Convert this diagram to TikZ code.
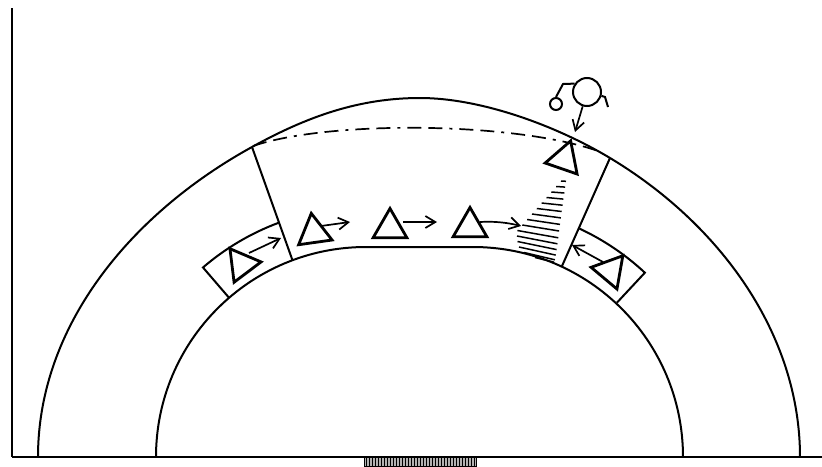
\documentclass[tikz,border=0pt]{standalone}
\usetikzlibrary{arrows.meta,shapes.geometric}
\begin{document}
\begin{tikzpicture}[x=1pt, y=-1pt, line width=2pt,
    player/.style={draw, regular polygon, regular polygon sides=3,
      minimum size=39pt, inner sep=0pt, line width=2.8pt},
    move/.style={-{Straight Barb[length=10pt, width=12pt]}, line width=1.7pt},
    shot/.style={line width=1.5pt}]
    \useasboundingbox (0,0) rectangle (822,466);
    % court
    \draw (12,8) -- (12,457);
    \draw[line width=2.6pt] (12,457) -- (822,457);
    \draw[fill=gray!60, line width=0.8pt] (364,457) rectangle (476,466);
    \draw[line width=0.6pt] (364,457) grid[xstep=3, ystep=3] (476,466);
    \coordinate (jl) at (252,147);
    \coordinate (jr) at (610,158);
    % 6m line
    \draw (156,457) arc[start angle=180, end angle=270, radius=210]
        -- (473,247) arc[start angle=270, end angle=360, radius=210];
    % 9m line
    \draw (38,457) .. controls (38,325) and (132,213) .. (jl)
        .. controls (308,116) and (360,98) .. (420,98)
        .. controls (480,98) and (555,125) .. (jr)
        .. controls (720,224) and (800,334) .. (800,457);
    \draw (jl) -- (292.5,260.3);
    \draw (jr) -- (561.7,266.7);
    \draw[dash pattern=on 14pt off 7pt on 14pt off 7pt on 3pt off 7pt, line width=1.7pt]
        (253,146) .. controls (330,120) and (515,122) .. (598,151);
    % side boxes
    \draw (366,457) ++(229.3:210) -- ++(229.3:40)
        arc[start angle=229.3, end angle=249.5, radius=250];
    \draw (473,457) ++(313:211) -- ++(313:41)
        arc[start angle=313, end angle=295, radius=252];
    % shot lane
    \foreach \ya/\xa/\xb/\yb in {181/561/566/181.3, 186.5/556.2/565.1/187.1,
        192/551.3/564.3/193, 197.5/546.5/563.4/199.1, 203/541.6/562.6/205.2,
        208.5/536.8/561.7/211.5, 214/532/560.9/217.9, 219.5/527.1/560/224.4,
        225/522.3/559.1/231, 230.5/517.4/558.3/237.8, 236/517/557.4/243.8,
        241.5/517.5/556.6/249.6, 247/519/555.7/255.1, 252.5/524/554.9/259.8,
        257.5/535/554/262.2}
      \draw[shot] (\xa,\ya) -- (\xb,\yb);
    % players
    \node[player, rotate=-83] (p1) at (241.7,264.3) {};
    \node[player, rotate=8] (p2) at (314,232.7) {};
    \node[player] (p3) at (390,228) {};
    \node[player] (p4) at (470,227) {};
    \node[player, rotate=-19] (p5) at (564.3,159.3) {};
    \node[player, rotate=80] (p6) at (610.3,270.7) {};
    \coordinate (m1) at (281,238);
    \coordinate (m2) at (350,222);
    \coordinate (m3) at (437,222);
    \coordinate (m4) at (521,226);
    \coordinate (m6) at (572,245);
    \draw[move] ([shift={(7.3,-11.3)}]p1.center) -- (m1);
    \draw[move] ([shift={(7,-6.7)}]p2.center) -- (m2);
    \draw[move] ([shift={(13,-6)}]p3.center) -- (m3);
    \draw[move] ([shift={(10,-5)}]p4.center) .. controls +(15,-1) and +(-12,-3) .. (m4);
    \draw[move] ([shift={(-7.3,-8.7)}]p6.center) -- (m6);
    % defender with ball
    \node[draw, circle, minimum size=28pt, inner sep=0pt] (def) at (587,92) {};
    \node[draw, circle, minimum size=12pt, inner sep=0pt] (ball) at (556,104) {};
    \draw (ball.north) -- (563,84) -- (def.146);
    \draw (def.-15) -- (605,97) -- (608,107);
    \coordinate (dto) at (575,132);
    \draw[move] (def) -- (dto);
\end{tikzpicture}
\end{document}
